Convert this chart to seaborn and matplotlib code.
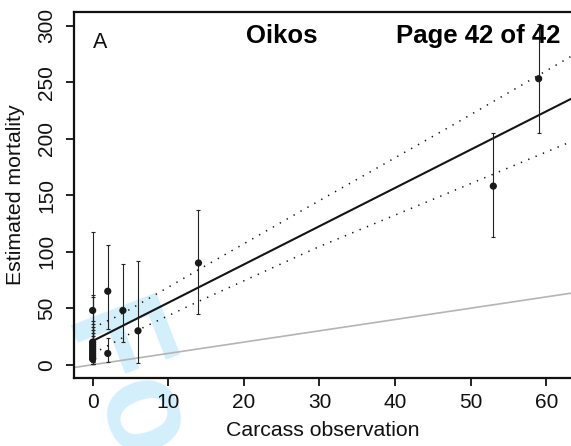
import numpy as np
import pandas as pd
import matplotlib
matplotlib.use("Agg")
import matplotlib.pyplot as plt
import seaborn as sns

# carcasses observed vs estimated mortality, with interval bounds
carcass_x = [0, 0, 0, 0, 0, 0, 0, 0, 0, 0, 2, 2, 4, 6, 14, 53, 59]
mortality = [48, 20, 18, 16, 14, 12, 10, 8, 6, 5, 65, 10, 48, 30, 90, 158, 253]
lower_ci = [12, 4, 3, 3, 2, 2, 1, 1, 1, 1, 32, 2, 20, 1.5, 45, 113, 205]
upper_ci = [117, 62, 60, 39, 36, 33, 31, 28, 25, 22, 106, 24, 89, 92, 137, 205, 301]

# fitted line and its confidence band
fit_x = [0, 65]
fit_y = [21, 241]
upper_x = [0, 1, 2.9, 4.7, 14, 27.4, 47.3, 63.3, 65]
upper_y = [32.5, 35.7, 41.7, 48.1, 84, 135.3, 210.7, 272.8, 279.5]
lower_x = [0, 1, 2.9, 4.7, 14, 29.9, 46.5, 63.3, 65]
lower_y = [10.5, 13.3, 20, 26.6, 56, 104.3, 150.4, 197.4, 202]

# 1:1 reference line
ref_x = [-3, 66]
ref_y = [-3, 66]

x_ticks = [0, 10, 20, 30, 40, 50, 60]
y_ticks = [0, 50, 100, 150, 200, 250, 300]

sns.set_theme(style="ticks")
plt.rcParams["font.family"] = ["Liberation Sans", "DejaVu Sans"]

W, H = 571, 446
fig = plt.figure(figsize=(W / 100, H / 100), dpi=100)
# right spine lies just past the image edge, as in the cropped original
ax = fig.add_axes([73.9 / W, (H - 378.3) / H, (580.1 - 73.9) / W, (378.3 - 12) / H])
ax.patch.set_alpha(0)

# review watermark, mostly outside the page crop
fig.text(66.8 / W, 1 - 316.6 / H, "For Review Only", fontsize=94, fontweight="bold",
         color="#d3effc", rotation=-69, rotation_mode="anchor", ha="left",
         va="baseline", zorder=-5)

sns.lineplot(x=ref_x, y=ref_y, ax=ax, color="#b4b4b4", linewidth=1.2, zorder=2)
sns.lineplot(x=fit_x, y=fit_y, ax=ax, color="#141414", linewidth=1.5, zorder=3)
sns.lineplot(x=upper_x, y=upper_y, ax=ax, color="#141414", linewidth=1.1,
             linestyle=(0, (0.9, 4.3)), zorder=3)
sns.lineplot(x=lower_x, y=lower_y, ax=ax, color="#141414", linewidth=1.1,
             linestyle=(0, (0.9, 4.3)), zorder=3)

m = np.array(mortality)
yerr = [m - np.array(lower_ci), np.array(upper_ci) - m]
ax.errorbar(carcass_x, mortality, yerr=yerr, fmt="none", ecolor="#222222",
            elinewidth=0.8, capsize=1.6, capthick=0.8, zorder=3)
sns.scatterplot(x=carcass_x, y=mortality, ax=ax, s=27, color="#1a1a1a",
                edgecolor="none", zorder=4)

ax.set_xlim(-2.48, 64.48)
ax.set_ylim(-12, 312)
ax.set_xticks(x_ticks)
ax.set_yticks(y_ticks)
ax.tick_params(axis="both", direction="out", length=5.8, width=1.3,
               labelsize=15, color="#111111", labelcolor="#111111")
ax.tick_params(axis="x", pad=5)
ax.tick_params(axis="y", pad=7)
for lab in ax.get_yticklabels():
    lab.set_rotation(90)
    lab.set_va("center")

for side in ["left", "bottom", "top", "right"]:
    ax.spines[side].set_linewidth(1.6)
    ax.spines[side].set_color("#111111")

ax.set_xlabel("Carcass observation", fontsize=15.3, color="#111111")
ax.set_ylabel("Estimated mortality", fontsize=15.3, color="#111111")
ax.xaxis.set_label_coords(0.4915, -0.116)
ax.yaxis.set_label_coords(-0.097, 0.5)

fig.text(92.9 / W, 1 - 48.3 / H, "A", fontsize=15.5, color="#111111",
         ha="left", va="baseline")
fig.text(281.6 / W, 1 - 43.3 / H, "Oikos", fontsize=18.5, fontweight="bold",
         color="black", ha="center", va="baseline")
fig.text(478.4 / W, 1 - 43.3 / H, "Page 42 of 42", fontsize=18.5,
         fontweight="bold", color="black", ha="center", va="baseline")

fig.savefig("out.png", dpi=100)
